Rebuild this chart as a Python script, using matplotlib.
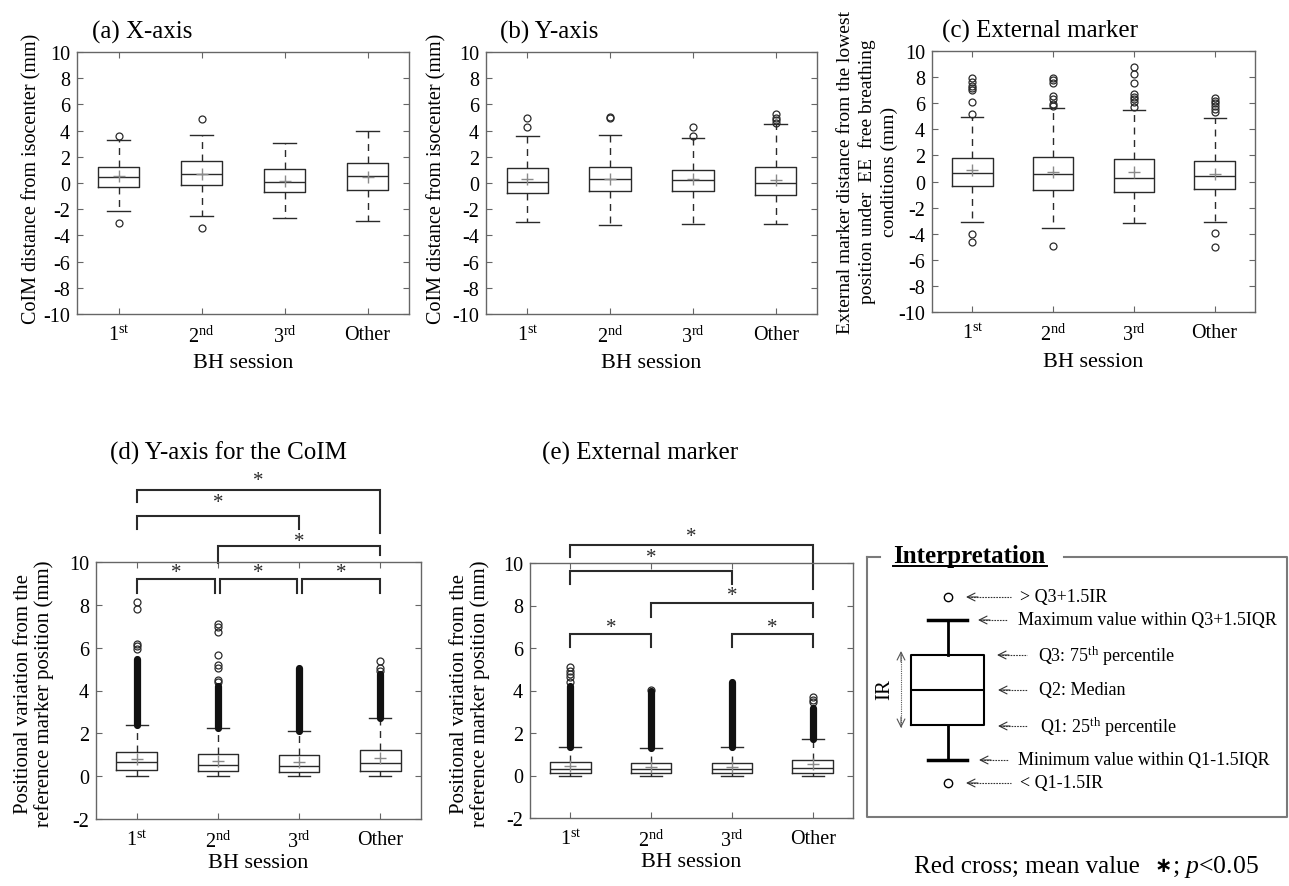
import matplotlib
matplotlib.use("Agg")
import matplotlib.pyplot as plt

plt.rcParams['font.family'] = ['Liberation Serif', 'DejaVu Serif']
plt.rcParams['mathtext.fontset'] = 'custom'
plt.rcParams['mathtext.rm'] = 'Liberation Serif'
plt.rcParams['mathtext.it'] = 'Liberation Serif:italic'
plt.rcParams['mathtext.bf'] = 'Liberation Serif:bold'
plt.rcParams['axes.unicode_minus'] = False

# ---------------- data ----------------
sessions = [r'1$^{\mathrm{st}}$', r'2$^{\mathrm{nd}}$', r'3$^{\mathrm{rd}}$', 'Other']

# (a) X-axis CoIM
a_q1 = [-0.3, -0.15, -0.7, -0.5]
a_med = [0.45, 0.7, 0.1, 0.5]
a_q3 = [1.2, 1.65, 1.05, 1.5]
a_mean = [0.5, 0.7, 0.15, 0.45]
a_lo = [-2.1, -2.5, -2.7, -2.9]
a_hi = [3.25, 3.7, 3.05, 4.0]
a_fliers = [[3.55, -3.05], [4.9, -3.4], [], []]

# (b) Y-axis CoIM
b_q1 = [-0.75, -0.6, -0.6, -0.95]
b_med = [0.1, 0.3, 0.25, 0.0]
b_q3 = [1.15, 1.2, 1.0, 1.2]
b_mean = [0.3, 0.3, 0.3, 0.25]
b_lo = [-3.0, -3.2, -3.1, -3.1]
b_hi = [3.6, 3.7, 3.4, 4.5]
b_fliers = [[4.95, 4.3], [5.05, 4.95], [4.25, 3.6], [5.3, 5.0, 4.8, 4.6]]

# (c) External marker
c_q1 = [-0.35, -0.65, -0.8, -0.55]
c_med = [0.65, 0.6, 0.3, 0.45]
c_q3 = [1.8, 1.9, 1.7, 1.6]
c_mean = [0.85, 0.75, 0.75, 0.6]
c_lo = [-3.1, -3.6, -3.15, -3.1]
c_hi = [4.95, 5.65, 5.5, 4.85]
c_fliers = [[7.95, 7.6, 7.35, 7.15, 7.0, 6.1, 5.2, -4.0, -4.65],
            [7.95, 7.8, 7.55, 6.55, 6.35, 5.95, 5.8, -4.95],
            [8.8, 8.25, 7.55, 6.7, 6.5, 6.35, 6.1, 5.7],
            [6.4, 6.2, 6.0, 5.8, 5.55, 5.3, -3.95, -5.0]]

# (d) Y-axis for the CoIM (positional variation)
d_q1 = [0.28, 0.22, 0.2, 0.23]
d_med = [0.64, 0.54, 0.48, 0.6]
d_q3 = [1.12, 1.03, 0.98, 1.23]
d_mean = [0.8, 0.73, 0.67, 0.87]
d_lo = [0.0, 0.0, 0.0, 0.0]
d_hi = [2.4, 2.25, 2.13, 2.7]
d_dense_top = [5.45, 4.22, 5.03, 4.77]   # top of the densely packed outliers
d_fliers = [[5.93, 6.06, 6.17, 7.8, 8.12],
            [4.39, 4.5, 5.06, 5.19, 5.67, 6.75, 6.98, 7.1],
            [],
            [4.92, 5.03, 5.39]]
d_sig = [(1, 4), (1, 3), (2, 4), (1, 2), (2, 3), (3, 4)]

# (e) External marker (positional variation)
e_q1 = [0.12, 0.13, 0.13, 0.12]
e_med = [0.31, 0.31, 0.31, 0.35]
e_q3 = [0.62, 0.6, 0.6, 0.74]
e_mean = [0.45, 0.42, 0.42, 0.54]
e_lo = [0.0, 0.0, 0.0, 0.0]
e_hi = [1.36, 1.29, 1.32, 1.72]
e_dense_top = [4.23, 4.0, 4.38, 3.2]
e_fliers = [[4.42, 4.62, 4.78, 4.93, 5.09],
            [4.02],
            [],
            [3.44, 3.57, 3.68]]
e_sig = [(1, 4), (1, 3), (2, 4), (1, 2), (3, 4)]

# bracket geometry (annotation layout): (x_left, x_right, top, left_leg_bottom, right_leg_bottom, star_y)
d_brackets = [(1.0, 4.0, 13.38, 12.8, 11.36, 13.8),
              (1.0, 3.0, 12.14, 11.52, 11.52, 12.76),
              (2.0, 4.0, 10.74, 9.96, 10.35, 10.97),
              (1.0, 1.97, 9.19, 8.57, 8.57, 9.5),
              (2.03, 2.97, 9.19, 8.57, 8.57, 9.5),
              (3.03, 4.0, 9.19, 8.57, 8.57, 9.5)]
e_brackets = [(1.0, 4.0, 10.86, 10.26, 8.8, 11.25),
              (1.0, 3.0, 9.63, 9.0, 9.0, 10.26),
              (2.0, 4.0, 8.1, 7.44, 7.44, 8.46),
              (1.0, 2.0, 6.66, 6.03, 6.03, 6.97),
              (3.0, 4.0, 6.66, 6.03, 6.03, 6.97)]

# schematic box for the interpretation panel (arbitrary units)
sch_stats = dict(q1=92, med=127, q3=162, whislo=57, whishi=197, fliers=[220, 34])

W, H = 1289, 887
fig = plt.figure(figsize=(W / 100, H / 100), dpi=100)

LC = '#2a2a2a'
SPC = '#666666'


def px_axes(l, r, t, b):
    return fig.add_axes([l / W, 1 - b / H, (r - l) / W, (b - t) / H])


def make_stats(q1, med, q3, mean, lo, hi, fliers):
    out = []
    for i in range(len(q1)):
        out.append(dict(q1=q1[i], med=med[i], q3=q3[i], mean=mean[i],
                        whislo=lo[i], whishi=hi[i], fliers=fliers[i],
                        label=sessions[i]))
    return out


def draw_panel(ax, stats, ylim, yticks, dense_lo=None, dense_hi=None):
    ax.bxp(stats, positions=[1, 2, 3, 4], widths=0.5, capwidths=0.27,
           showmeans=True,
           boxprops=dict(color=LC, lw=1.0),
           medianprops=dict(color=LC, lw=1.0),
           whiskerprops=dict(color=LC, lw=1.0, linestyle=(0, (5, 4))),
           capprops=dict(color=LC, lw=1.0),
           meanprops=dict(marker='+', markeredgecolor='#8a8a8a', markersize=8, mew=1.0),
           flierprops=dict(marker='o', markerfacecolor='none', markeredgecolor=LC,
                           markersize=5, mew=0.9))
    if dense_lo is not None:
        ax.vlines([1, 2, 3, 4], dense_lo, dense_hi, colors='#111111', lw=5.2,
                  capstyle='round', zorder=3)
    ax.set_xlim(0.5, 4.5)
    ax.set_ylim(*ylim)
    ax.set_yticks(yticks)
    ax.tick_params(direction='in', top=True, right=True, length=4, width=0.8,
                   color=SPC, labelsize=14.5, pad=5)
    ax.tick_params(axis='x', pad=8)
    for s in ax.spines.values():
        s.set_color(SPC)
        s.set_linewidth(1.0)


def draw_brackets(ax, brackets):
    for (xl, xr, top, lb, rb, sy) in brackets:
        ax.plot([xl, xl, xr, xr], [lb, top, top, rb], color=LC, lw=1.5,
                clip_on=False, solid_joinstyle='miter')
        ax.text((xl + xr) / 2, sy, '*', ha='center', va='center', fontsize=15,
                color=LC, clip_on=False)


# ---- (a) ----
ax_a = px_axes(77, 409, 53, 315)
draw_panel(ax_a, make_stats(a_q1, a_med, a_q3, a_mean, a_lo, a_hi, a_fliers),
           (-10, 10), range(-10, 11, 2))
ax_a.set_ylabel('CoIM distance from isocenter (mm)', fontsize=14.5, va='center')
ax_a.yaxis.set_label_coords(-0.136, 0.52)
ax_a.set_xlabel('BH session', fontsize=16, va='center')
ax_a.xaxis.set_label_coords(0.5, -0.185)
ax_a.text(0.045, 1.035, '(a) X-axis', transform=ax_a.transAxes, fontsize=18,
          ha='left', va='bottom')

# ---- (b) ----
ax_b = px_axes(486, 817, 53, 315)
draw_panel(ax_b, make_stats(b_q1, b_med, b_q3, b_mean, b_lo, b_hi, b_fliers),
           (-10, 10), range(-10, 11, 2))
ax_b.set_ylabel('CoIM distance from isocenter (mm)', fontsize=14.5, va='center')
ax_b.yaxis.set_label_coords(-0.148, 0.52)
ax_b.set_xlabel('BH session', fontsize=16, va='center')
ax_b.xaxis.set_label_coords(0.5, -0.185)
ax_b.text(0.042, 1.035, '(b) Y-axis', transform=ax_b.transAxes, fontsize=18,
          ha='left', va='bottom')

# ---- (c) ----
ax_c = px_axes(932, 1255, 52, 313)
draw_panel(ax_c, make_stats(c_q1, c_med, c_q3, c_mean, c_lo, c_hi, c_fliers),
           (-10, 10), range(-10, 11, 2))
ax_c.set_ylabel('External marker distance from the lowest\n'
                'position under  EE  free breathing\nconditions (mm)',
                fontsize=14, va='center', linespacing=1.35)
ax_c.yaxis.set_label_coords(-0.2, 0.54)
ax_c.set_xlabel('BH session', fontsize=16, va='center')
ax_c.xaxis.set_label_coords(0.5, -0.19)
ax_c.text(0.03, 1.035, '(c) External marker', transform=ax_c.transAxes, fontsize=18,
          ha='left', va='bottom')

# ---- (d) ----
ax_d = px_axes(96, 421, 563, 820)
draw_panel(ax_d, make_stats(d_q1, d_med, d_q3, d_mean, d_lo, d_hi, d_fliers),
           (-2, 10), range(-2, 11, 2), dense_lo=d_hi, dense_hi=d_dense_top)
draw_brackets(ax_d, d_brackets)
ax_d.set_ylabel('Positional variation from the\nreference marker position (mm)',
                fontsize=15, va='center', linespacing=1.1)
ax_d.yaxis.set_label_coords(-0.19, 0.49)
ax_d.set_xlabel('BH session', fontsize=16, va='center')
ax_d.xaxis.set_label_coords(0.5, -0.17)
fig.text(228 / W, 1 - 453 / H, '(d) Y-axis for the CoIM', fontsize=18,
         ha='center', va='center')

# ---- (e) ----
ax_e = px_axes(530, 853, 564, 819)
draw_panel(ax_e, make_stats(e_q1, e_med, e_q3, e_mean, e_lo, e_hi, e_fliers),
           (-2, 10), range(-2, 11, 2), dense_lo=e_hi, dense_hi=e_dense_top)
draw_brackets(ax_e, e_brackets)
ax_e.set_ylabel('Positional variation from the\nreference marker position (mm)',
                fontsize=15, va='center', linespacing=1.1)
ax_e.yaxis.set_label_coords(-0.185, 0.49)
ax_e.set_xlabel('BH session', fontsize=16, va='center')
ax_e.xaxis.set_label_coords(0.5, -0.17)
fig.text(640 / W, 1 - 453 / H, '(e) External marker', fontsize=18,
         ha='center', va='center')

# ---- Interpretation panel ----
ax_i = px_axes(867, 1287, 558, 818)
ax_i.set_xlim(0, 420)
ax_i.set_ylim(0, 260)
ax_i.axis('off')
FC = '#7a7a7a'
ax_i.plot([0, 0, 420, 420, 197], [260, 0, 0, 260, 260], color=FC, lw=1.5,
          clip_on=False)
ax_i.plot([0, 13], [260, 260], color=FC, lw=1.5, clip_on=False)
ax_i.text(26, 261, 'Interpretation', fontsize=18, fontweight='bold',
          ha='left', va='center')
ax_i.plot([26, 180], [251, 251], color='black', lw=1.4, clip_on=False)

sch = dict(sch_stats)
ax_i.bxp([sch], positions=[80.5], widths=73, capwidths=39, manage_ticks=False,
         boxprops=dict(color='black', lw=1.5),
         medianprops=dict(color='black', lw=1.5),
         whiskerprops=dict(color='black', lw=2.0),
         capprops=dict(color='black', lw=2.5),
         flierprops=dict(marker='o', markerfacecolor='none', markeredgecolor='black',
                         markersize=6, mew=1.0))

interp_rows = [
    (99, 144, 220, 153, '> Q3+1.5IR'),
    (111, 140, 197, 151, 'Maximum value within Q3+1.5IQR'),
    (130, 160, 162, 171, r'Q3: 75$^{\mathrm{th}}$ percentile'),
    (131, 160, 127, 172, 'Q2: Median'),
    (131, 160, 91, 173, r'Q1: 25$^{\mathrm{th}}$ percentile'),
    (112, 141, 57, 151, 'Minimum value within Q1-1.5IQR'),
    (99, 144, 34, 153, '< Q1-1.5IR'),
]
for x0, x1, yy, xt, label in interp_rows:
    ax_i.plot([x0 + 2, x1], [yy, yy], color='#333333', lw=0.8, ls=(0, (1.5, 1)))
    ax_i.annotate('', xy=(x0, yy), xytext=(x0 + 12, yy),
                  arrowprops=dict(arrowstyle='->', color='#333333', lw=0.8,
                                  mutation_scale=14, shrinkA=0, shrinkB=0))
    ax_i.text(xt, yy, label, fontsize=13, ha='left', va='center')

# IR arrow
ax_i.plot([34, 34], [90, 165], color='#555555', lw=0.8, ls=(0, (1, 1)))
ax_i.annotate('', xy=(34, 166), xytext=(34, 155),
              arrowprops=dict(arrowstyle='->', color='#555555', lw=0.8,
                              mutation_scale=14, shrinkA=0, shrinkB=0))
ax_i.annotate('', xy=(34, 89), xytext=(34, 100),
              arrowprops=dict(arrowstyle='->', color='#555555', lw=0.8,
                              mutation_scale=14, shrinkA=0, shrinkB=0))
ax_i.text(18, 128, 'IR', fontsize=15, rotation=90, ha='center', va='center')

fig.text(914 / W, 1 - 867 / H, 'Red cross; mean value', fontsize=18,
         ha='left', va='center')
fig.text(1163 / W, 1 - 866 / H, '\u2217', fontsize=15, fontweight='bold',
         family=['DejaVu Sans'], ha='center', va='center')
fig.text(1172 / W, 1 - 867 / H, r'; $p$<0.05', fontsize=18.5,
         ha='left', va='center')

fig.savefig('out.png', dpi=100)
